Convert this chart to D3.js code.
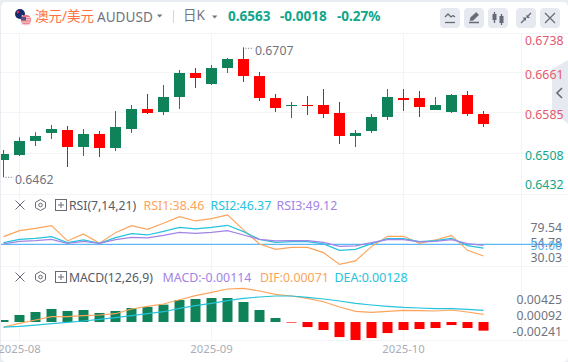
<!DOCTYPE html>
<html>
<head>
<meta charset="utf-8">
<script src="https://cdn.jsdelivr.net/npm/d3@7"></script>
<style>
    html, body { margin: 0; padding: 0; background: #fff; }
    svg { display: block; }
    text { font-family: "Noto Sans", "Noto Sans CJK SC", sans-serif; }
</style>
</head>
<body>
<svg id="chart" width="568" height="362"></svg>
<script>
// daily candles, one row per field
const opens = [0.64947, 0.65041, 0.65306, 0.65457, 0.65513, 0.65192, 0.65438, 0.65173, 0.65532, 0.65910, 0.65853, 0.66136, 0.66589, 0.66381, 0.66683, 0.66853, 0.66532, 0.66117, 0.65985, 0.65985, 0.65985, 0.65834, 0.65400, 0.65494, 0.65759, 0.66117, 0.66117, 0.65891, 0.65853, 0.66174, 0.65815];
const closes = [0.65060, 0.65306, 0.65400, 0.65532, 0.65192, 0.65438, 0.65173, 0.65570, 0.65910, 0.65834, 0.66136, 0.66589, 0.66495, 0.66683, 0.66853, 0.66532, 0.66117, 0.65928, 0.65985, 0.65966, 0.65815, 0.65400, 0.65457, 0.65759, 0.66136, 0.66079, 0.65947, 0.65985, 0.66174, 0.65815, 0.65626];
const highs = [0.65136, 0.65375, 0.65470, 0.65608, 0.65589, 0.65532, 0.65494, 0.65872, 0.65985, 0.66193, 0.66363, 0.66646, 0.66683, 0.66740, 0.66872, 0.67074, 0.66608, 0.66193, 0.66042, 0.66155, 0.66287, 0.66042, 0.65513, 0.65815, 0.66287, 0.66287, 0.66249, 0.66136, 0.66193, 0.66249, 0.65872];
const lows = [0.64620, 0.65022, 0.65211, 0.65343, 0.64815, 0.65022, 0.65004, 0.65117, 0.65457, 0.65815, 0.65796, 0.65910, 0.66306, 0.66363, 0.66589, 0.66419, 0.66061, 0.65853, 0.65740, 0.65796, 0.65740, 0.65249, 0.65192, 0.65457, 0.65702, 0.65872, 0.65759, 0.65891, 0.65834, 0.65777, 0.65570];

const rsi1 = [57.8, 63.8, 66.1, 68.8, 53.5, 60.5, 51.1, 61.8, 68.8, 65.1, 71.1, 77.8, 73.5, 75.8, 79.54, 64.5, 50.5, 45.1, 47.1, 47.1, 41.8, 30.03, 33.5, 47.8, 58.1, 58.1, 51.1, 54.5, 59.1, 44.1, 38.46];
const rsi2 = [51.8, 55.1, 56.1, 57.8, 51.8, 54.5, 51.1, 56.8, 60.8, 59.5, 63.1, 67.1, 65.5, 67.1, 69.1, 62.8, 55.1, 52.1, 52.8, 52.8, 50.5, 44.1, 45.1, 50.8, 55.8, 55.8, 52.8, 53.8, 56.1, 48.8, 46.37];
const rsi3 = [50.5, 53.1, 53.8, 55.1, 51.1, 53.1, 51.1, 54.8, 57.1, 56.5, 59.1, 62.1, 61.1, 62.1, 63.8, 59.5, 55.1, 53.5, 53.8, 53.8, 52.1, 48.1, 48.5, 51.8, 54.8, 54.8, 52.5, 53.1, 54.8, 50.8, 49.12];
const rsiTicks = [79.54, 54.78, 30.03];

const macdHist = [0.00025, 0.00088, 0.00125, 0.00163, 0.00138, 0.0015, 0.00113, 0.00138, 0.00175, 0.00188, 0.00217, 0.00275, 0.00288, 0.003, 0.003, 0.0025, 0.0015, 0.0005, -0.00004, -0.00063, -0.001, -0.00188, -0.00225, -0.002, -0.00138, -0.001, -0.00088, -0.00075, -0.00038, -0.00075, -0.00108];
const dif = [-0.00063, -0.00017, 0.00025, 0.00067, 0.00067, 0.00079, 0.00088, 0.00104, 0.00163, 0.00196, 0.00225, 0.00279, 0.00329, 0.00371, 0.00413, 0.00421, 0.00388, 0.00346, 0.00325, 0.00296, 0.00254, 0.00188, 0.00133, 0.00121, 0.00133, 0.00146, 0.00142, 0.00138, 0.0015, 0.00125, 0.00096];
const dea = [-0.00063, -0.00054, -0.00038, -0.00021, -0.00004, 0.00013, 0.00033, 0.00054, 0.00079, 0.00104, 0.00129, 0.00171, 0.00204, 0.00233, 0.00267, 0.00296, 0.00313, 0.00325, 0.00325, 0.00308, 0.00288, 0.00263, 0.00233, 0.00213, 0.00196, 0.00183, 0.00175, 0.00167, 0.00167, 0.00158, 0.00146];
const macdTicks = [0.00425, 0.00092, -0.00241];

const priceTicks = ["0.6738", "0.6661", "0.6585", "0.6508", "0.6432"];
const monthTicks = [{ label: "2025-08", index: 1 }, { label: "2025-09", index: 13 }, { label: "2025-10", index: 25 }];

const colors = {
    up: "#108259",
    down: "#ff0000",
    grid: "#f2f4f8",
    axisGrey: "#6f7480",
    monthGrey: "#a9adb9",
    quoteGreen: "#0fa68a",
    priceRed: "#e2586c",
    orange: "#fda45c",
    cyan: "#25c3dc",
    purple: "#a283e6",
    rsiBase: "#5db8f5",
    button: "#e7e9f0",
    icon: "#666a75"
};

const svg = d3.select("#chart");
const panel = { left: 1, right: 521.5, top: 33, mainBottom: 194, rsiBottom: 266, macdBottom: 340 };

const x = d3.scaleLinear().domain([0, 30]).range([3.5, 483.5]);
const yPrice = d3.scaleLinear().domain([0.6432, 0.6738]).range([193.2, 31.1]);
const yRsi = d3.scaleLinear().domain([30.03, 79.54]).range([264.4, 214.9]);
const yRsiLabel = d3.scaleLinear().domain([30.03, 79.54]).range([257.7, 227]);
const yMacd = d3.scaleLinear().domain([-0.00241, 0.00425]).range([341.3, 288]);
const yMacdLabel = d3.scaleLinear().domain([-0.00241, 0.00425]).range([331.7, 299.7]);

const candles = opens.map((open, i) => ({ i, open, close: closes[i], high: highs[i], low: lows[i] }));

function addText(parent, px, py, str, color, size, anchor) {
    return parent.append("text")
        .attr("x", px)
        .attr("y", py)
        .attr("fill", color)
        .attr("font-size", size)
        .attr("text-anchor", anchor || "start")
        .attr("dominant-baseline", "central")
        .text(str);
}

function drawFrame() {
    svg.append("rect").attr("width", 568).attr("height", 362).attr("fill", "#e9ecf1");
    svg.append("rect").attr("x", 1).attr("y", 2).attr("width", 567).attr("height", 360).attr("rx", 5).attr("fill", "#fff");

    const grid = svg.append("g").attr("stroke", colors.grid).attr("stroke-width", 1);
    const hLines = [panel.top, yPrice(0.6661), yPrice(0.6585), yPrice(0.6508), panel.mainBottom, panel.rsiBottom, panel.macdBottom];
    grid.selectAll("line.h")
        .data(hLines)
        .join("line")
        .attr("x1", panel.left)
        .attr("x2", 568)
        .attr("y1", d => Math.round(d) + 0.5)
        .attr("y2", d => Math.round(d) + 0.5);
    grid.selectAll("line.v")
        .data(monthTicks)
        .join("line")
        .attr("x1", d => x(d.index))
        .attr("x2", d => x(d.index))
        .attr("y1", panel.top)
        .attr("y2", panel.macdBottom);
    grid.append("line")
        .attr("x1", panel.right).attr("x2", panel.right)
        .attr("y1", panel.top).attr("y2", panel.macdBottom);
}

function drawHeader() {
    // flag pair
    const flag = svg.append("g");
    flag.append("circle").attr("cx", 20).attr("cy", 14).attr("r", 5).attr("fill", "#1b2a6b");
    flag.append("circle").attr("cx", 18).attr("cy", 12).attr("r", 1.3).attr("fill", "#d8324a");
    flag.append("circle").attr("cx", 22.5).attr("cy", 16).attr("r", 0.9).attr("fill", "#e9e9f2");
    flag.append("circle").attr("cx", 26).attr("cy", 20).attr("r", 5.2).attr("fill", "#e8727f");
    d3.range(4).forEach(k => {
        flag.append("rect").attr("x", 21.2).attr("y", 17.2 + k * 2.2).attr("width", 9.6).attr("height", 1).attr("fill", "#f6dde0");
    });
    flag.append("path").attr("d", "M21,17 h5 v3.5 h-5 z").attr("fill", "#5a4f80");

    addText(svg, 35, 15.5, "澳元/美元", "#ff7043", 13.5);
    addText(svg, 97, 16.5, "AUDUSD", colors.axisGrey, 13.6);
    svg.append("path").attr("d", "M157,14.5 h5.4 l-2.7,3 z").attr("fill", colors.axisGrey);
    svg.append("rect").attr("x", 173).attr("y", 10).attr("width", 1).attr("height", 13).attr("fill", "#d4d7de");
    addText(svg, 183, 15, "日K", colors.axisGrey, 13.5);
    svg.append("path").attr("d", "M212,15.5 h5.4 l-2.7,3 z").attr("fill", colors.axisGrey);
    addText(svg, 228, 15.5, "0.6563", colors.quoteGreen, 13.5).attr("font-weight", 700);
    addText(svg, 280, 15.5, "-0.0018", colors.quoteGreen, 13.5).attr("font-weight", 700);
    addText(svg, 337, 15.5, "-0.27%", colors.quoteGreen, 13.5).attr("font-weight", 700);

    const buttons = svg.append("g");
    const buttonX = [440, 464, 488, 516, 540];
    buttons.selectAll("rect")
        .data(buttonX)
        .join("rect")
        .attr("x", d => d)
        .attr("y", 8)
        .attr("width", 20)
        .attr("height", 20)
        .attr("rx", 4)
        .attr("fill", colors.button);

    const ic = buttons.append("g").attr("fill", "none").attr("stroke", colors.icon).attr("stroke-width", 1.3);
    ic.append("path").attr("d", "M445,17 l3,-3 l3,3 l2,-1.5 l2,1.5");
    ic.append("path").attr("d", "M445,22.5 h10");
    ic.append("path").attr("d", "M469,22.5 h10").attr("stroke-width", 1.5);
    ic.append("path").attr("d", "M470,20.5 l0.7,-3 l5.5,-5 l2.4,2.4 l-5.5,5.4 z").attr("fill", colors.icon).attr("stroke-width", 0.6);
    ic.append("path").attr("d", "M494.5,12 v11 M501.5,14 v11");
    ic.append("rect").attr("x", 492.5).attr("y", 14).attr("width", 4).attr("height", 6).attr("fill", colors.icon).attr("stroke", "none");
    ic.append("rect").attr("x", 499.5).attr("y", 16).attr("width", 4).attr("height", 7).attr("fill", colors.icon).attr("stroke", "none");
    ic.append("path").attr("d", "M521,23 l4,-4 M531,13 l-4,4");
    ic.append("path").attr("d", "M522.5,17.5 h3.5 v3.5 z M526.5,14.5 v3.5 h3.5 z").attr("fill", colors.icon).attr("stroke", "none");
    ic.append("path").attr("d", "M545,13 l10,10 M555,13 l-10,10").attr("stroke-width", 1.2);
}

function drawCandles() {
    const clip = svg.append("clipPath").attr("id", "plotClip");
    clip.append("rect").attr("x", panel.left).attr("y", 0).attr("width", panel.right - panel.left).attr("height", 362);

    const g = svg.append("g").attr("clip-path", "url(#plotClip)");
    const candle = g.selectAll("g")
        .data(candles)
        .join("g")
        .attr("fill", d => d.close >= d.open ? colors.up : colors.down);

    candle.append("rect")
        .attr("x", d => x(d.i) - 0.5)
        .attr("width", 1)
        .attr("y", d => yPrice(d.high))
        .attr("height", d => yPrice(d.low) - yPrice(d.high));

    candle.append("rect")
        .attr("x", d => x(d.i) - 5.5)
        .attr("width", 11)
        .attr("y", d => yPrice(Math.max(d.open, d.close)))
        .attr("height", d => Math.max(1, Math.abs(yPrice(d.open) - yPrice(d.close))));

    // high and low annotations
    const notes = [{ i: 15, value: highs[15] }, { i: 0, value: lows[0] }];
    notes.forEach(n => {
        const px = x(n.i) + 2;
        const py = yPrice(n.value) + (n.i === 0 ? 0 : 1);
        svg.append("line").attr("x1", px).attr("x2", px + 8).attr("y1", py).attr("y2", py)
            .attr("stroke", colors.axisGrey).attr("stroke-width", 1).attr("stroke-dasharray", "1,1.6");
        addText(svg, px + 9.5, py + 2.5, n.value.toFixed(4), colors.axisGrey, 12.3);
    });
}

function drawPriceAxis() {
    // collapse tab goes under the labels
    svg.append("path")
        .attr("d", "M568,60 L552,69 V110 L568,124 Z")
        .attr("fill", colors.button);
    svg.append("path")
        .attr("d", "M562,88 l-5,5 l5,5")
        .attr("fill", "none")
        .attr("stroke", colors.icon)
        .attr("stroke-width", 1.6);

    const labelY = [40.6, 74.7, 114.7, 155.7, 184.7];
    priceTicks.forEach((t, i) => {
        addText(svg, 525, labelY[i], t, i < 3 ? colors.priceRed : colors.quoteGreen, 12.3);
    });
}

function drawLine(values, scale, color, clipId) {
    const line = d3.line().x((d, i) => x(i)).y(d => scale(d));
    svg.append("path")
        .attr("d", line(values))
        .attr("fill", "none")
        .attr("stroke", color)
        .attr("stroke-width", 1.15)
        .attr("clip-path", `url(#${clipId})`);
}

function drawIndicatorTitle(py, name, parts) {
    const g = svg.append("g");
    g.append("path").attr("d", `M15.5,${py - 4.5} l9,9 M24.5,${py - 4.5} l-9,9`).attr("stroke", colors.icon).attr("stroke-width", 1).attr("fill", "none");
    g.append("path")
        .attr("d", `M40.5,${py - 5.5} l5,2.8 v5.4 l-5,2.8 l-5,-2.8 v-5.4 z`)
        .attr("stroke", colors.icon).attr("stroke-width", 1).attr("fill", "none");
    g.append("circle").attr("cx", 40.5).attr("cy", py).attr("r", 1.8).attr("stroke", colors.icon).attr("fill", "none");
    g.append("rect").attr("x", 55.5).attr("y", py - 5.5).attr("width", 11).attr("height", 11)
        .attr("stroke", colors.icon).attr("fill", "none");
    g.append("path").attr("d", `M58,${py} h6 M61,${py - 3} v6`).attr("stroke", colors.icon).attr("fill", "none");
    addText(g, 69, py, name, "#555a66", 12.2);
    parts.forEach(p => addText(g, p.x, py, p.text, p.color, 12.4));
}

function drawRsi() {
    svg.append("clipPath").attr("id", "rsiClip")
        .append("rect").attr("x", panel.left).attr("y", panel.mainBottom).attr("width", panel.right - panel.left).attr("height", 72);

    svg.append("line")
        .attr("x1", panel.left).attr("x2", 562)
        .attr("y1", yRsi(50)).attr("y2", yRsi(50))
        .attr("stroke", colors.rsiBase).attr("stroke-width", 1.2);

    drawLine(rsi1, yRsi, colors.orange, "rsiClip");
    drawLine(rsi2, yRsi, colors.cyan, "rsiClip");
    drawLine(rsi3, yRsi, colors.purple, "rsiClip");

    drawIndicatorTitle(205, "RSI(7,14,21)", [
        { x: 143.5, text: "RSI1:38.46", color: colors.orange },
        { x: 210.5, text: "RSI2:46.37", color: colors.cyan },
        { x: 276.5, text: "RSI3:49.12", color: colors.purple }
    ]);

    rsiTicks.forEach(t => addText(svg, 562, yRsiLabel(t), t.toFixed(2), colors.axisGrey, 12.3, "end"));
    addText(svg, 562, yRsiLabel(50), "50.00", colors.rsiBase, 12.3, "end");
}

function drawMacd() {
    svg.append("clipPath").attr("id", "macdClip")
        .append("rect").attr("x", panel.left).attr("y", panel.rsiBottom).attr("width", panel.right - panel.left).attr("height", 74);

    const g = svg.append("g").attr("clip-path", "url(#macdClip)");
    g.selectAll("rect")
        .data(macdHist)
        .join("rect")
        .attr("x", (d, i) => x(i) - 5)
        .attr("width", 10)
        .attr("y", d => yMacd(Math.max(0, d)))
        .attr("height", d => Math.max(0.6, Math.abs(yMacd(d) - yMacd(0))))
        .attr("fill", d => d >= 0 ? colors.up : colors.down);

    drawLine(dif, yMacd, colors.orange, "macdClip");
    drawLine(dea, yMacd, colors.cyan, "macdClip");

    drawIndicatorTitle(277, "MACD(12,26,9)", [
        { x: 162.5, text: "MACD:-0.00114", color: colors.purple },
        { x: 260, text: "DIF:0.00071", color: colors.orange },
        { x: 334.5, text: "DEA:0.00128", color: colors.cyan }
    ]);

    macdTicks.forEach(t => addText(svg, 562, yMacdLabel(t), t.toFixed(5), colors.axisGrey, 12.3, "end"));
}

function drawMonths() {
    monthTicks.forEach(m => addText(svg, x(m.index), 348.5, m.label, colors.monthGrey, 11.3, "middle"));
}

drawFrame();
drawHeader();
drawCandles();
drawPriceAxis();
drawRsi();
drawMacd();
drawMonths();
</script>
</body>
</html>
